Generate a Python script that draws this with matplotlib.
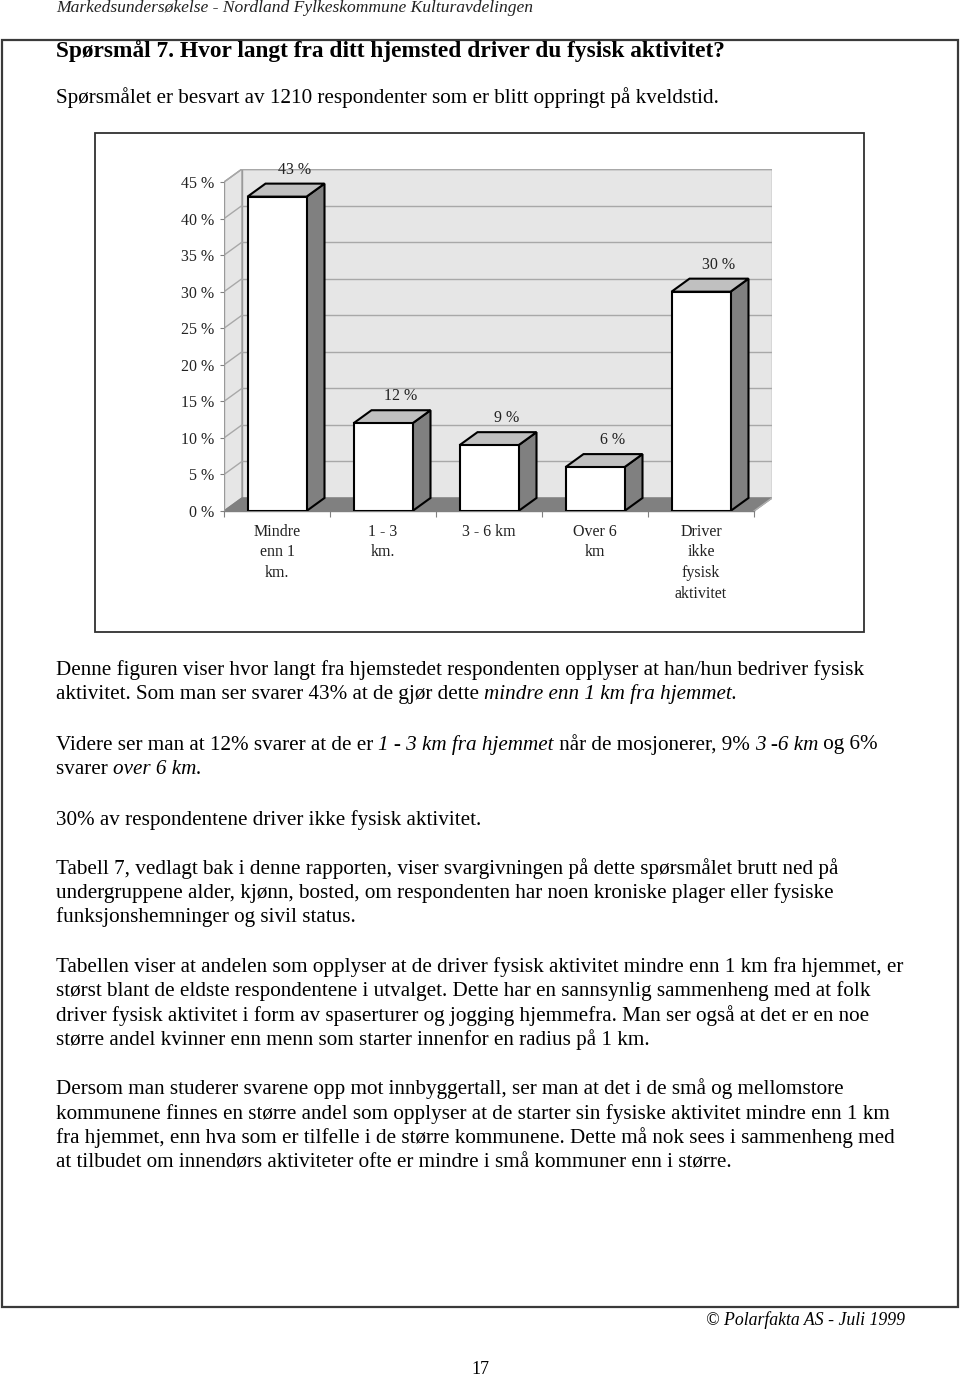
import matplotlib
matplotlib.use("Agg")
import matplotlib.pyplot as plt
from matplotlib.patches import Rectangle, Polygon

plt.rcParams["font.family"] = ["Liberation Serif", "DejaVu Serif"]

# data
kategorier = ["Mindre\nenn 1\nkm.", "1 - 3\nkm.", "3 - 6 km", "Over 6\nkm",
              "Driver\nikke\nfysisk\naktivitet"]
andel = [43, 12, 9, 6, 30]
y_ticks = [0, 5, 10, 15, 20, 25, 30, 35, 40, 45]
y_labels = [f"{v} %" for v in y_ticks]

topptekst = "Markedsundersøkelse - Nordland Fylkeskommune Kulturavdelingen"
tittel = "Spørsmål 7. Hvor langt fra ditt hjemsted driver du fysisk aktivitet?"
undertittel = "Spørsmålet er besvart av 1210 respondenter som er blitt oppringt på kveldstid."

# brødtekst: hver linje er en liste av (tekst, stil)
N, I = "normal", "italic"
avsnitt = [
    (670, [("Denne figuren viser hvor langt fra hjemstedet respondenten opplyser at han/hun bedriver fysisk", N)]),
    (694, [("aktivitet. Som man ser svarer 43% at de gjør dette ", N), ("mindre enn 1 km fra hjemmet.", I)]),
    (745, [("Videre ser man at 12% svarer at de er ", N), ("1 - 3 km fra hjemmet", I),
           (" når de mosjonerer, 9% ", N), ("3 -6 km", I), (" og 6%", N)]),
    (770, [("svarer ", N), ("over 6 km.", I)]),
    (820, [("30% av respondentene driver ikke fysisk aktivitet.", N)]),
    (869, [("Tabell 7, vedlagt bak i denne rapporten, viser svargivningen på dette spørsmålet brutt ned på", N)]),
    (893, [("undergruppene alder, kjønn, bosted, om respondenten har noen kroniske plager eller fysiske", N)]),
    (917, [("funksjonshemninger og sivil status.", N)]),
    (967, [("Tabellen viser at andelen som opplyser at de driver fysisk aktivitet mindre enn 1 km fra hjemmet, er", N)]),
    (991, [("størst blant de eldste respondentene i utvalget. Dette har en sannsynlig sammenheng med at folk", N)]),
    (1016, [("driver fysisk aktivitet i form av spaserturer og jogging hjemmefra. Man ser også at det er en noe", N)]),
    (1040, [("større andel kvinner enn menn som starter innenfor en radius på 1 km.", N)]),
    (1089, [("Dersom man studerer svarene opp mot innbyggertall, ser man at det i de små og mellomstore", N)]),
    (1114, [("kommunene finnes en større andel som opplyser at de starter sin fysiske aktivitet mindre enn 1 km", N)]),
    (1138, [("fra hjemmet, enn hva som er tilfelle i de større kommunene. Dette må nok sees i sammenheng med", N)]),
    (1163, [("at tilbudet om innendørs aktiviteter ofte er mindre i små kommuner enn i større.", N)]),
]

TEKST = 15.2  # punktstørrelse brødtekst

fig = plt.figure(figsize=(9.6, 13.76), dpi=100)
fig.patch.set_facecolor("white")

# sidelag i pikselkoordinater
side = fig.add_axes([0, 0, 1, 1])
side.set_xlim(0, 960)
side.set_ylim(1376, 0)
side.axis("off")

side.add_patch(Rectangle((2, 40), 956, 1267, fill=False, ec="#3a3a3a", lw=1.6))
side.add_patch(Rectangle((95, 133), 769, 499, fill=False, ec="#303030", lw=1.3))

side.text(56, 8, topptekst, fontsize=12.6, style="italic", va="center", color="#222222")
side.text(56, 51, tittel, fontsize=16.8, weight="bold", va="center")
side.text(56, 98, undertittel, fontsize=TEKST, va="center")

renderer = fig.canvas.get_renderer()


def bredde(tekst, stil, størrelse):
    # bredde inkl. mellomrom, målt med et merketegn
    t1 = side.text(0, 0, "|" + tekst + "|", fontsize=størrelse, style=stil)
    t2 = side.text(0, 0, "||", fontsize=størrelse, style=stil)
    w = t1.get_window_extent(renderer).width - t2.get_window_extent(renderer).width
    t1.remove()
    t2.remove()
    return w


for y, biter in avsnitt:
    x = 56
    for tekst, stil in biter:
        side.text(x, y, tekst, fontsize=TEKST, style=stil, va="center")
        x += bredde(tekst, stil, TEKST)

side.text(905, 1320, "© Polarfakta AS - Juli 1999", fontsize=12.8, style="italic",
          ha="right", va="center")
side.text(480, 1369, "17", fontsize=13, ha="center", va="center")

# diagramlag
dx_px, dy_px = 18, 13
px_per_kat = 106
px_per_pst = (511 - 183) / 45
dx = dx_px / px_per_kat
dy = dy_px / px_per_pst
ymax = y_ticks[-1]

W, H = 960, 1376
ax = fig.add_axes([224 / W, (H - 511) / H, (530 + dx_px) / W, (511 - 169) / H])
ax.set_xlim(-0.5, len(andel) - 0.5 + dx)
ax.set_ylim(0, ymax + dy)
for s in ax.spines.values():
    s.set_visible(False)
ax.patch.set_visible(False)

vegg = "#e6e6e6"
kant = "#9a9a9a"
x0, x1 = -0.5, len(andel) - 0.5

# bakvegg
ax.add_patch(Polygon([(x0 + dx, dy), (x1 + dx, dy), (x1 + dx, ymax + dy), (x0 + dx, ymax + dy)],
                     closed=True, fc=vegg, ec=kant, lw=1.0, zorder=1))
# venstre vegg
ax.add_patch(Polygon([(x0, 0), (x0 + dx, dy), (x0 + dx, ymax + dy), (x0, ymax)],
                     closed=True, fc=vegg, ec=kant, lw=1.0, zorder=1))
for v in y_ticks[1:]:
    ax.plot([x0 + dx, x1 + dx], [v + dy, v + dy], color="#a8a8a8", lw=1.0, zorder=2)
    ax.plot([x0, x0 + dx], [v, v + dy], color="#a8a8a8", lw=1.0, zorder=2)
# gulv
ax.add_patch(Polygon([(x0, 0), (x1, 0), (x1 + dx, dy), (x0 + dx, dy)],
                     closed=True, fc="#808080", ec="#808080", lw=1.0, zorder=3))
ax.plot([x1, x1 + dx], [0, dy], color="#b0b0b0", lw=1.0, zorder=3)

# søyler
bw = 59 / px_per_kat
for i, v in enumerate(andel):
    l, r = i - bw / 2, i + bw / 2
    ax.add_patch(Polygon([(r, 0), (r + dx, dy), (r + dx, v + dy), (r, v)],
                         closed=True, fc="#808080", ec="black", lw=1.5, zorder=5))
    ax.add_patch(Polygon([(l, v), (l + dx, v + dy), (r + dx, v + dy), (r, v)],
                         closed=True, fc="#c0c0c0", ec="black", lw=1.5, zorder=5))
    ax.add_patch(Rectangle((l, 0), bw, v, fc="white", ec="black", lw=1.5, zorder=6))
    ax.text(i + dx, v + dy + 14 / px_per_pst, f"{v} %", fontsize=11.5,
            ha="center", va="center", color="#222222", zorder=7)

# akser
ax.set_yticks(y_ticks)
ax.set_yticklabels(y_labels)
ax.tick_params(axis="y", direction="out", length=3, width=0.8, color="#808080",
               pad=4, labelsize=11.5, labelcolor="#222222")
ax.set_xticks(range(len(kategorier)))
ax.set_xticklabels(kategorier, linespacing=1.4)
ax.set_xticks([k - 0.5 for k in range(len(kategorier) + 1)], minor=True)
ax.tick_params(axis="x", which="major", length=0, pad=9, labelsize=11.5, labelcolor="#222222")
ax.tick_params(axis="x", which="minor", direction="out", length=4.5, width=0.8, color="#808080")
ax.plot([x0, x1], [0, 0], color="#808080", lw=1.0, zorder=3, clip_on=False)
ax.plot([x0, x0], [0, ymax], color="#9a9a9a", lw=1.0, zorder=3)

fig.savefig("out.png", dpi=100)
